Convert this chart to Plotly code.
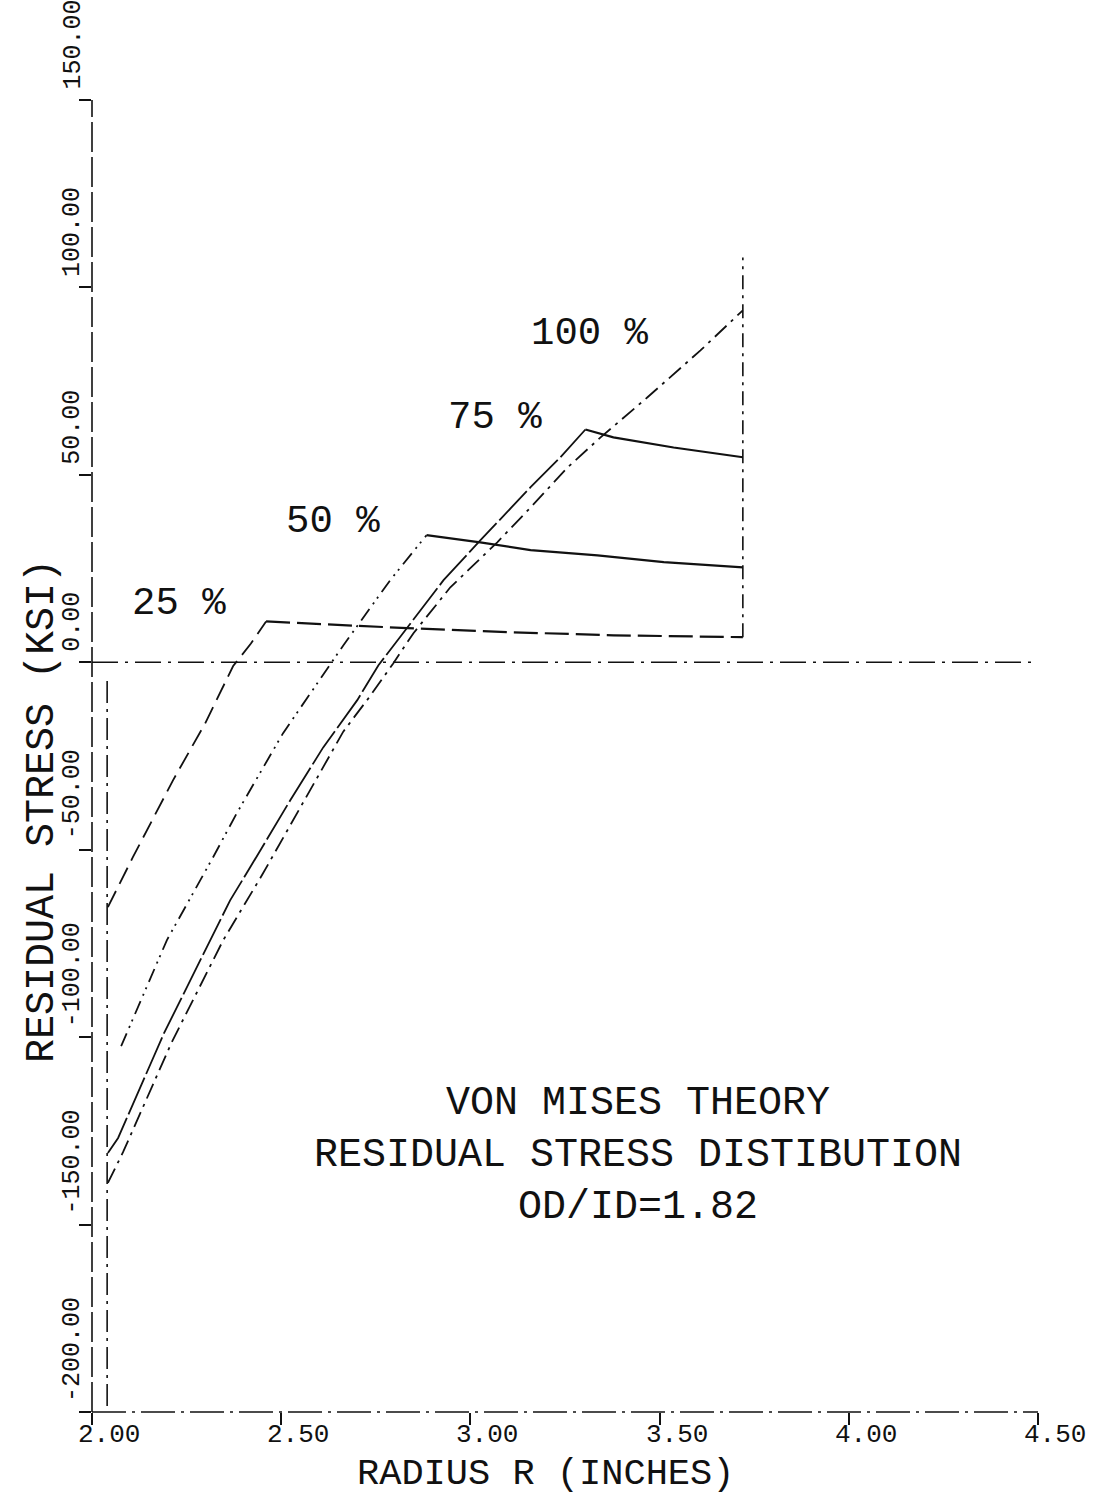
import plotly.graph_objects as go

# ---------------- data ----------------
INNER_R = 2.04
OUTER_R = 3.72

R_25 = [2.042, 2.108, 2.214, 2.299, 2.373, 2.420, 2.460, 2.611, 2.833, 3.114, 3.378, 3.720]
S_25 = [-65.3, -52.0, -31.5, -16.3, -1.0, 5.0, 10.9, 10.1, 9.1, 8.0, 7.2, 6.7]
K_25 = 6  # index of elastic-plastic interface

R_50 = [2.077, 2.198, 2.320, 2.384, 2.505, 2.611, 2.664, 2.788, 2.884, 3.026, 3.159, 3.336, 3.511, 3.720]
S_50 = [-102.4, -74.1, -52.0, -40.0, -18.9, -3.5, 4.5, 21.9, 33.9, 32.0, 29.9, 28.5, 26.7, 25.3]
K_50 = 8

R_75 = [2.042, 2.069, 2.190, 2.312, 2.365, 2.418, 2.524, 2.611, 2.701, 2.757, 2.833, 2.929, 3.026,
        3.159, 3.238, 3.304, 3.378, 3.537, 3.720]
S_75 = [-130.9, -126.9, -99.0, -74.1, -63.5, -54.7, -36.8, -22.7, -10.1, -0.8, 9.3, 21.9, 32.5,
        46.7, 54.7, 62.1, 60.0, 57.3, 54.7]
K_75 = 15

R_100 = [2.042, 2.082, 2.210, 2.347, 2.452, 2.595, 2.664, 2.735, 2.796, 2.849, 2.947, 3.071, 3.159,
         3.257, 3.344, 3.468, 3.608, 3.720]
S_100 = [-138.9, -130.7, -101.5, -74.1, -56.3, -30.7, -18.5, -9.0, -0.3, 7.7, 20.0, 32.0, 41.3,
         52.0, 60.0, 70.7, 83.2, 93.9]
K_100 = 17

PCT_LABELS = ["25 %", "50 %", "75 %", "100 %"]

X_TICKS = [2.0, 2.5, 3.0, 3.5, 4.0, 4.5]
X_TICK_TEXT = ["2.00", "2.50", "3.00", "3.50", "4.00", "4.50"]
Y_TICKS = [-200, -150, -100, -50, 0, 50, 100, 150]
Y_TICK_TEXT = ["-200.00", "-150.00", "-100.00", "-50.00", "0.00", "50.00", "100.00", "150.00"]

TITLE_LINES = ["VON MISES THEORY", "RESIDUAL STRESS DISTIBUTION", "OD/ID=1.82"]
X_TITLE = "RADIUS R (INCHES)"
Y_TITLE = "RESIDUAL STRESS (KSI)"

# ---------------- styling ----------------
W, H = 1099, 1495
ML, MR, MT, MB = 92, 61, 100, 83
FONT = "Liberation Mono"
INK = "#111111"

series = [
    (R_25, S_25, K_25, "18px,8px", "24px,7px"),
    (R_50, S_50, K_50, "14px,6px,2px,5px,2px,6px", "solid"),
    (R_75, S_75, K_75, "40px,4px", "solid"),
    (R_100, S_100, K_100, "16px,6px,3px,6px", "16px,6px,3px,6px"),
]
pct_pos = [(2.230, 15.5), (2.638, 37.3), (3.066, 65.1), (3.317, 87.5)]

fig = go.Figure()
for r, s, k, dash_p, dash_e in series:
    fig.add_trace(go.Scatter(x=r[:k + 1], y=s[:k + 1], mode="lines",
                             line=dict(color=INK, width=1.8, dash=dash_p),
                             showlegend=False, hoverinfo="skip"))
    if k < len(r) - 1:
        fig.add_trace(go.Scatter(x=r[k:], y=s[k:], mode="lines",
                                 line=dict(color=INK, width=2.2, dash=dash_e),
                                 showlegend=False, hoverinfo="skip"))

# reference lines: inner bore, outer radius
fig.add_trace(go.Scatter(x=[INNER_R, INNER_R], y=[-5, -200], mode="lines",
                         line=dict(color=INK, width=1.6, dash="22px,6px,3px,6px"),
                         showlegend=False, hoverinfo="skip"))
fig.add_trace(go.Scatter(x=[OUTER_R, OUTER_R], y=[S_25[-1], 108], mode="lines",
                         line=dict(color=INK, width=1.6, dash="14px,6px,3px,6px"),
                         showlegend=False, hoverinfo="skip"))

shapes = [
    dict(type="line", xref="paper", yref="y", x0=0, x1=0.994, y0=0, y1=0,
         line=dict(color=INK, width=1.6, dash="26px,7px,3px,7px")),
    dict(type="line", xref="paper", yref="paper", x0=0, x1=0, y0=0, y1=1,
         line=dict(color=INK, width=1.6, dash="30px,5px")),
    dict(type="line", xref="paper", yref="paper", x0=0, x1=1, y0=0, y1=0,
         line=dict(color=INK, width=1.6, dash="34px,6px,3px,6px")),
]

ann = []
for v, t in zip(X_TICKS, X_TICK_TEXT):
    ann.append(dict(x=v, xref="x", y=0, yref="paper", text=t, showarrow=False,
                    xanchor="center", yanchor="middle", xshift=17, yshift=-23,
                    font=dict(family=FONT, size=26, color=INK)))
for v, t in zip(Y_TICKS, Y_TICK_TEXT):
    ann.append(dict(x=0, xref="paper", y=v, yref="y", text=t, showarrow=False,
                    textangle=-90, xanchor="right", yanchor="bottom", xshift=-3, yshift=8,
                    font=dict(family=FONT, size=25, color=INK)))
for (x, y), t in zip(pct_pos, PCT_LABELS):
    ann.append(dict(x=x, y=y, xref="x", yref="y", text=t, showarrow=False,
                    xanchor="center", yanchor="middle",
                    font=dict(family=FONT, size=39, color=INK)))

# three-line caption as one text block
ann.append(dict(x=(638 - ML) / (W - ML - MR), y=(H - MB - 1155) / (H - MT - MB),
                xref="paper", yref="paper", text="<br>".join(TITLE_LINES), showarrow=False,
                xanchor="center", yanchor="middle", align="center",
                font=dict(family=FONT, size=40, color=INK)))

ann.append(dict(x=(545 - ML) / (W - ML - MR), y=0, xref="paper", yref="paper",
                text=X_TITLE, showarrow=False, xanchor="center", yanchor="middle",
                yshift=-(1474 - (H - MB)), font=dict(family=FONT, size=37, color=INK)))
ann.append(dict(x=0, y=(H - MB - 811) / (H - MT - MB), xref="paper", yref="paper",
                text=Y_TITLE, showarrow=False, textangle=-90,
                xanchor="center", yanchor="middle", xshift=-(ML - 42),
                font=dict(family=FONT, size=40, color=INK)))

axis_common = dict(showgrid=False, zeroline=False, showline=False, showticklabels=False,
                   ticks="outside", ticklen=12, tickwidth=1.6, tickcolor=INK)
fig.update_layout(
    width=W, height=H, margin=dict(l=ML, r=MR, t=MT, b=MB, pad=0),
    paper_bgcolor="white", plot_bgcolor="white",
    xaxis=dict(range=[2.0, 4.5], tickvals=X_TICKS, **axis_common),
    yaxis=dict(range=[-200, 150], tickvals=Y_TICKS, **axis_common),
    shapes=shapes, annotations=ann, showlegend=False,
)
fig.write_html("out.html")
